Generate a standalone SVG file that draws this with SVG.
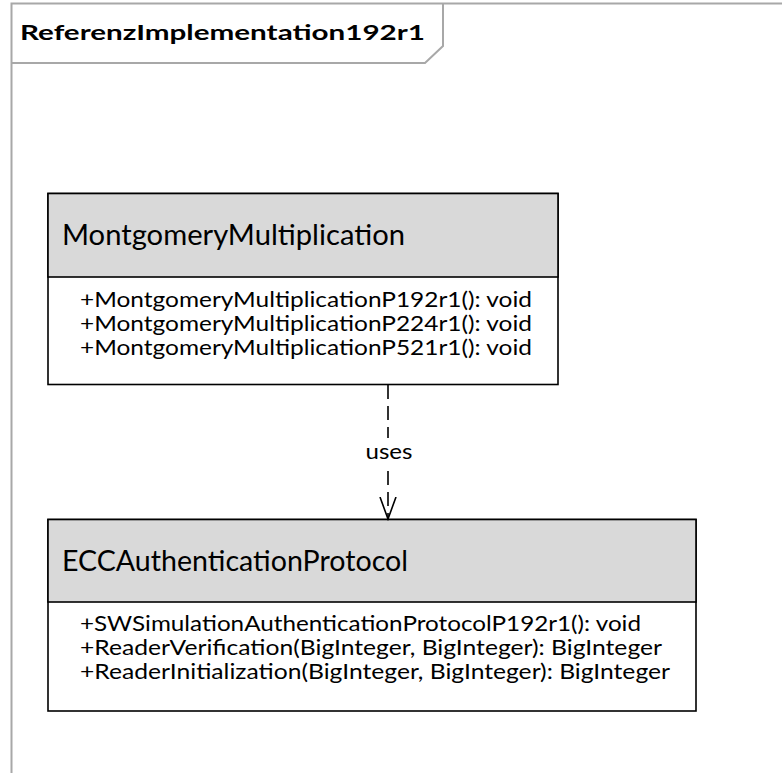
<svg xmlns="http://www.w3.org/2000/svg" width="782" height="773" viewBox="0 0 782 773">
  <style>
    .frame { fill: none; stroke: #a8a8a8; stroke-width: 2; }
    .box { fill: #ffffff; stroke: #000000; stroke-width: 1.6; }
    .head { fill: #d9d9d9; stroke: #000000; stroke-width: 1.6; }
    .title { font-family: Lato, "Open Sans", sans-serif; font-size: 28px; fill: #000000; }
    .member { font-family: Lato, "Open Sans", sans-serif; font-size: 21px; fill: #000000; }
    .pkg { font-family: Lato, "Open Sans", sans-serif; font-size: 21px; font-weight: bold; fill: #000000; }
    .dep { fill: none; stroke: #000000; stroke-width: 1.6; stroke-dasharray: 14 7; }
    .label { font-family: Lato, "Open Sans", sans-serif; font-size: 21px; fill: #000000; }
  </style>
  <defs>
    <marker id="open-arrow" markerUnits="userSpaceOnUse" markerWidth="24" markerHeight="18" refX="22" refY="9" orient="auto" viewBox="0 0 24 18">
      <path d="M0,1 L22,9 L0,17" fill="none" stroke="#000000" stroke-width="1.6"/>
    </marker>
  </defs>

  <rect width="782" height="773" fill="#ffffff"/>

  <!-- package frame with name tab -->
  <g id="package">
    <path class="frame" d="M782,3.5 H11.5 V773"/>
    <path class="frame" d="M11.5,63 H425 L443,46 V3.5"/>
    <text class="pkg" x="20" y="40" textLength="405" lengthAdjust="spacingAndGlyphs">ReferenzImplementation192r1</text>
  </g>

  <!-- class: MontgomeryMultiplication -->
  <g id="MontgomeryMultiplication">
    <rect class="box" x="48" y="193.5" width="510" height="191"/>
    <rect class="head" x="48" y="193.5" width="510" height="83.5"/>
    <text class="title" x="62" y="245" textLength="343" lengthAdjust="spacingAndGlyphs">MontgomeryMultiplication</text>
    <text class="member" x="80" y="307" textLength="452" lengthAdjust="spacingAndGlyphs">+MontgomeryMultiplicationP192r1(): void</text>
    <text class="member" x="80" y="331" textLength="452" lengthAdjust="spacingAndGlyphs">+MontgomeryMultiplicationP224r1(): void</text>
    <text class="member" x="80" y="355" textLength="452" lengthAdjust="spacingAndGlyphs">+MontgomeryMultiplicationP521r1(): void</text>
  </g>

  <!-- class: ECCAuthenticationProtocol -->
  <g id="ECCAuthenticationProtocol">
    <rect class="box" x="48" y="519.5" width="648" height="191.5"/>
    <rect class="head" x="48" y="519.5" width="648" height="82.5"/>
    <text class="title" x="62" y="571" textLength="346" lengthAdjust="spacingAndGlyphs">ECCAuthenticationProtocol</text>
    <text class="member" x="80" y="631" textLength="561" lengthAdjust="spacingAndGlyphs">+SWSimulationAuthenticationProtocolP192r1(): void</text>
    <text class="member" x="80" y="655" textLength="582" lengthAdjust="spacingAndGlyphs">+ReaderVerification(BigInteger, BigInteger): BigInteger</text>
    <text class="member" x="80" y="679" textLength="590" lengthAdjust="spacingAndGlyphs">+ReaderInitialization(BigInteger, BigInteger): BigInteger</text>
  </g>

  <!-- dependency: MontgomeryMultiplication uses ECCAuthenticationProtocol -->
  <g id="connectors">
    <path class="dep" d="M388,385 V438"/>
    <path class="dep" d="M388,471 V519" marker-end="url(#open-arrow)"/>
    <text class="label" x="389" y="459" text-anchor="middle" textLength="47" lengthAdjust="spacingAndGlyphs">uses</text>
  </g>
</svg>
